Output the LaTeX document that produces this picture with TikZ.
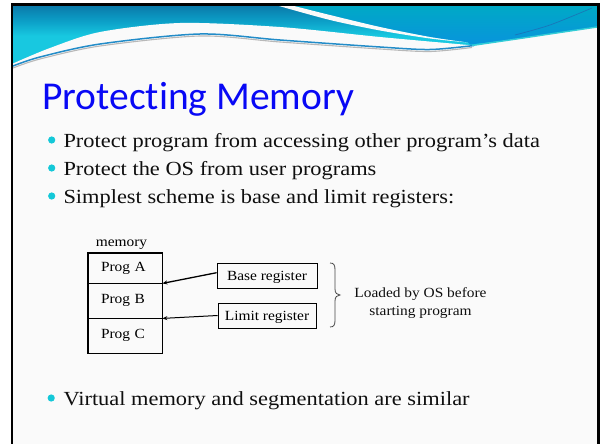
\documentclass[tikz,border=0pt]{standalone}
\usepackage{fontspec}
\setmainfont{Liberation Serif}
\newfontfamily\titlefont[Ligatures={NoCommon}]{Carlito}
\newfontfamily\bodyfont[FakeStretch=1.12]{Liberation Serif}
\newfontfamily\figfont[FakeStretch=1.1]{Liberation Serif}
\usetikzlibrary{arrows.meta}

\definecolor{slidebg}{RGB}{250,250,250}
\definecolor{wavetop}{RGB}{10,122,170}
\definecolor{wavemid}{RGB}{12,160,200}
\definecolor{wavebot}{RGB}{24,200,224}
\definecolor{wavertop}{RGB}{0,169,198}
\definecolor{waverbot}{RGB}{8,148,220}
\definecolor{waveline}{RGB}{35,140,200}
\definecolor{waveedge}{RGB}{51,204,214}
\definecolor{wavestreak}{RGB}{40,90,170}
\definecolor{waveshadow}{RGB}{184,184,184}
\definecolor{titleblue}{RGB}{8,8,245}
\definecolor{bulletcyan}{RGB}{20,200,216}
\definecolor{bodyink}{RGB}{15,15,15}
\definecolor{braceink}{RGB}{70,70,70}

% dark at the top of the band, cyan from its middle down
\pgfdeclareverticalshading{bandshade}{100bp}{%
  color(0bp)=(wavebot); color(50bp)=(wavebot); color(62bp)=(wavemid);
  color(75bp)=(wavetop); color(100bp)=(wavetop)}

\begin{document}
\begin{tikzpicture}[x=1pt,y=-1pt,
  bodytext/.style={anchor=base west,inner sep=0pt,text=bodyink,
    font=\bodyfont\fontsize{20}{24}\selectfont},
  bulletdot/.style={circle,fill=bulletcyan,inner sep=0pt,minimum size=7.2pt},
  progcell/.style={draw,line width=0.8pt,minimum width=74pt,text width=48pt,
    align=left,inner xsep=13pt,inner ysep=0pt,text height=9.5pt,text depth=3pt,
    font=\figfont\fontsize{14}{17}\selectfont},
  regbox/.style={draw,line width=0.8pt,minimum height=25pt,inner ysep=0pt,
    inner xsep=5pt,text height=10pt,text depth=1pt,
    font=\figfont\fontsize{14}{17}\selectfont},
  figtext/.style={inner sep=0pt,font=\figfont\fontsize{14}{17.3}\selectfont},
  ptr/.style={-{Stealth[length=5pt,width=4pt]},line width=1pt}]

\useasboundingbox (0,0) rectangle (600,444);
\fill[white] (0,0) rectangle (600,444);

% slide surface
\fill[slidebg] (13,5.7) rectangle (597.3,444);

% header wave: main band
\shade[shading=bandshade]
  (13,5.7) -- (597.3,5.7) --
  plot[smooth] coordinates {(597.3,27) (560,32.5) (520,38.5) (472,45.5)
    (430,49.5) (380,47) (280,40) (200,34) (100,44) (40,57) (13,66)} -- cycle;

% right part of the band, above the white streak
\shade[top color=wavertop,bottom color=waverbot]
  (293,5.7) -- (597.3,5.7) --
  plot[smooth] coordinates {(597.3,27) (560,32.5) (520,38.5) (470,44.5)} --
  plot[smooth] coordinates {(468,42.5) (430,37) (380,27) (330,15) (293,5.7)} -- cycle;

% white streak
\fill[slidebg]
  plot[smooth] coordinates {(278,5.7) (330,20) (380,30.5) (430,38.5) (468,42.5)} --
  plot[smooth] coordinates {(468,42.5) (430,37) (380,27) (330,15) (293,5.7)} -- cycle;

% white crescent under the band
\fill[slidebg]
  plot[smooth] coordinates {(13,63.5) (50,48) (100,32) (180,23) (280,27)
    (380,37) (474,45.5)} --
  plot[smooth] coordinates {(474,45.5) (430,49.5) (380,47) (280,40) (200,34)
    (100,44) (40,57) (13,66)} -- cycle;

% edge lines of the wave
\draw[waveshadow,line width=1.1pt]
  plot[smooth] coordinates {(472,47.5) (430,51.5) (380,49) (280,42) (200,36)
    (100,46) (40,59) (13,68)};
\draw[waveline,line width=1.5pt]
  plot[smooth] coordinates {(474,45.5) (430,49.5) (380,47) (280,40) (200,34)
    (100,44) (40,57) (13,66)};
\draw[waveedge,line width=1.4pt]
  plot[smooth] coordinates {(597.3,27) (560,32.5) (520,38.5) (472,45.5)};
\draw[wavestreak,line width=0.7pt,opacity=0.6]
  plot[smooth] coordinates {(515,35) (550,25) (592,8)};

% frame
\draw[line width=2.4pt] (12,444) -- (12,4.5) -- (598.3,4.5) -- (598.3,444);

% title
\node[anchor=base west,inner sep=0pt,text=titleblue,
  font=\titlefont\fontsize{39.5}{47}\selectfont] (title) at (42,110) {Protecting Memory};

% bullet list
\node[bulletdot] (b1) at (51.7,140) {};
\node[bodytext] (t1) at (63.3,147.3) {Protect program from accessing other program’s data};
\node[bulletdot] (b2) at (51.7,168) {};
\node[bodytext] (t2) at (63.3,175.2) {Protect the OS from user programs};
\node[bulletdot] (b3) at (51.7,196) {};
\node[bodytext] (t3) at (63.3,203.3) {Simplest scheme is base and limit registers:};
\node[bulletdot] (b4) at (51.2,398) {};
\node[bodytext] (t4) at (63.3,405) {Virtual memory and segmentation are similar};

% memory
\node[figtext,anchor=base] (memlabel) at (121.5,246.5) {memory};
\node[progcell,minimum height=30pt] (progA) at (125,268) {Prog A};
\node[progcell,minimum height=35pt] (progB) at (125,300.5) {Prog B};
\node[progcell,minimum height=35pt] (progC) at (125,335.5) {Prog C};
\draw[line width=1.5pt] (progA.north west) rectangle (progC.south east);

% registers
\node[regbox,minimum width=100pt] (base) at (267,275.5) {Base register};
\node[regbox,minimum width=98pt] (limit) at (267,315.5) {Limit register};
\draw[ptr,line width=1.3pt] ([yshift=2.8pt]base.west) -- (progA.south east);
\draw[ptr] (limit.west) -- (progB.south east);

% brace and note
\coordinate (bracetop) at (330,263);
\coordinate (bracebot) at (330,327);
\draw[braceink,line width=0.8pt] (bracetop)
  .. controls (334,263) and (335,265) .. (335,270) -- (335,289)
  .. controls (335,293) and (337,295) .. (340,295)
  .. controls (337,295) and (335,297) .. (335,301) -- (335,320)
  .. controls (335,325) and (334,327) .. (bracebot);
\node[figtext,align=center,text=bodyink] (note) at (420.5,303) {Loaded by OS before\\starting program};

\end{tikzpicture}
\end{document}
